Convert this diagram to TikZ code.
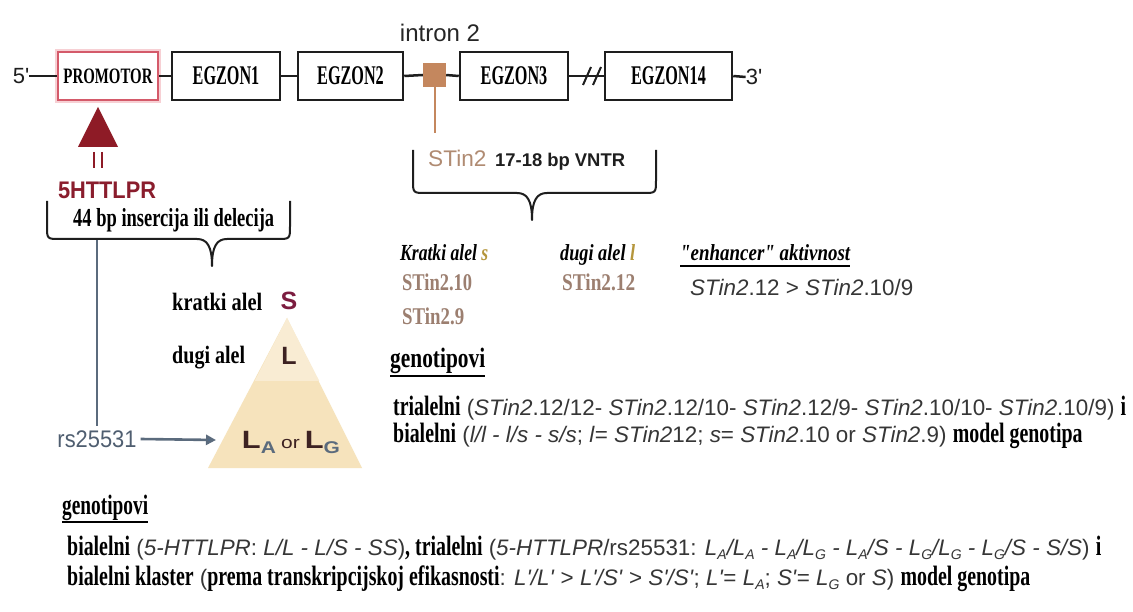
\documentclass[tikz,border=0pt]{standalone}
\usepackage{fontspec}
\setmainfont{Liberation Serif}[Ligatures=TeXOff]
\setsansfont{Liberation Sans}[Ligatures=TeXOff]
\usepackage{graphicx}
\usetikzlibrary{arrows.meta,calc}
\definecolor{linek}{HTML}{1E1E1E}
\definecolor{promred}{HTML}{D45A6A}
\definecolor{promglow}{HTML}{F7D0D4}
\definecolor{sqbrown}{HTML}{C4875E}
\definecolor{maroon1}{HTML}{8E1B26}
\definecolor{maroon2}{HTML}{8A1D2D}
\definecolor{maroonS}{HTML}{7C1D40}
\definecolor{darkL}{HTML}{3D2222}
\definecolor{slate}{HTML}{5B6B7D}
\definecolor{slatetxt}{HTML}{4F5E70}
\definecolor{arrowblue}{HTML}{4C6F96}
\definecolor{ytri}{HTML}{F6E3BC}
\definecolor{ytri2}{HTML}{F9ECD3}
\definecolor{gtxt}{HTML}{363636}
\definecolor{gold}{HTML}{B5963C}
\definecolor{stcol}{HTML}{9C7F70}
\definecolor{brownt}{HTML}{B08B72}
\newcommand\fit[2]{\resizebox{#1}{\height}{#2}}
\newcommand\fs[1]{\fontsize{#1}{#1}\selectfont}
\newcommand\sr[1]{\scalebox{0.71}[1]{\rmfamily\fs{28}\bfseries #1}}
\newcommand\sn[1]{{\sffamily\fs{22.4}\color{gtxt}#1}}
\newcommand\lsub[1]{\raisebox{-0.18em}{\fs{14}#1}}
\tikzset{
  box/.style={draw=linek, line width=2.5pt, fill=white, minimum height=48pt, inner sep=0pt},
  txt/.style={anchor=base west, inner sep=0pt},
  line/.style={font=\sffamily\fs{22.4}, anchor=base west, inner sep=0pt},
  wire/.style={draw=linek, line width=2.5pt},
  brace/.style={draw=linek, line width=2pt, line join=round},
  ul/.style={draw=black, line width=1.6pt},
  egz/.style={font=\rmfamily\bfseries\fs{27}}
}
\newcommand\eg[1]{\scalebox{0.6}[1]{#1}}
\begin{document}
\begin{tikzpicture}[x=1pt,y=-1pt]
\useasboundingbox (0,0) rectangle (1133,612);
\fill[white] (0,0) rectangle (1133,612);

% ---- gene line ----
\node[inner sep=0pt, font=\sffamily\fs{22}, text=linek] (five) at (21,76) {5'};
\node[box, draw=promred, line width=2pt, minimum width=100pt,
      preaction={draw=promglow, line width=6pt}] (prom) at (108,76)
      {\fit{89pt}{\rmfamily\bfseries\fs{22}PROMOTOR}};
\node[box, minimum width=108pt, egz] (eg1) at (226,76) {\eg{EGZON1}};
\node[box, minimum width=105pt, egz] (eg2) at (350.5,76) {\eg{EGZON2}};
\node[fill=sqbrown, minimum width=23pt, minimum height=24pt, inner sep=0pt] (sq) at (434.5,75) {};
\node[box, minimum width=108pt, egz] (eg3) at (514,76) {\eg{EGZON3}};
\node[box, minimum width=127pt, egz] (eg14) at (668.5,76) {\eg{EGZON14}};
\node[inner sep=0pt, font=\sffamily\fs{22}, text=linek] (three) at (754,77) {3'};
\node[inner sep=0pt, font=\sffamily\fs{24}, text=black!85] (intron) at (440,33) {intron 2};

\draw[wire] (five.east) -- (prom.west);
\draw[wire] (prom.east) -- (eg1.west);
\draw[wire] (eg1.east) -- (eg2.west);
\draw[wire] (eg2.east) -- (sq.west);
\draw[wire] (sq.east) -- (eg3.west);
\draw[wire] (eg3.east) -- (eg14.west);
\draw[wire] (eg14.east) -- (three.west);
\draw[wire, line width=2pt] (583,85) -- (591,67) (593,85) -- (601,67);

% ---- STin2 ----
\coordinate (stinend) at (434.5,133);
\draw[draw=sqbrown, line width=2pt] (sq.south) -- (stinend);
\node[txt, font=\sffamily\fs{22.6}, text=brownt] (stin) at (428,167) {STin2};
\node[txt, font=\sffamily\bfseries\fs{18.4}, text=linek] (vntr) at (495,167) {17-18 bp VNTR};
\draw[brace] (413,150) -- (413,180) .. controls (413,193) .. (426,193) -- (517,193)
  .. controls (527,193) and (532,200) .. (532,220)
  .. controls (532,200) and (537,193) .. (547,193) -- (643,193)
  .. controls (656,193) .. (656,180) -- (656,150);

% ---- 5HTTLPR ----
\fill[maroon1] (98,107) -- (118,147) -- (78,147) -- cycle;
\draw[maroon1, line width=2.2pt] (94,152) -- (94,168) (102,152) -- (102,168);
\node[inner sep=0pt] (h5) at (107,190) {\fit{98pt}{\sffamily\bfseries\fs{24}\color{maroon2}5HTTLPR}};
\node[txt] (ins) at (73,227) {\fit{201pt}{\rmfamily\bfseries\fs{26}44 bp insercija ili delecija}};
\draw[brace] (47,201) -- (47,226) .. controls (47,239) .. (60,239) -- (197,239)
  .. controls (207,239) and (212,246) .. (212,266)
  .. controls (212,246) and (217,239) .. (227,239) -- (277,239)
  .. controls (290,239) .. (290,226) -- (290,201);

% ---- allele pyramid ----
\fill[ytri] (287,318) -- (362,468) -- (208,468) -- cycle;
\fill[ytri2] (287,318) -- (319.3,381) -- (254.7,381) -- cycle;
\node[inner sep=0pt, font=\sffamily\bfseries\fs{25}, text=maroonS] (S) at (289,301) {S};
\node[inner sep=0pt, font=\sffamily\bfseries\fs{25}, text=darkL] (L) at (289,356) {L};
\node[txt] (kr) at (172,311) {\fit{90pt}{\rmfamily\bfseries\fs{25}kratki alel}};
\node[txt] (du) at (172,364) {\fit{73pt}{\rmfamily\bfseries\fs{25}dugi alel}};
\node[inner sep=0pt] (LALG) at (291,442) {\fit{98pt}{\sffamily\bfseries\fs{25}\color{darkL}L\raisebox{-5pt}{\fs{17}\color{slate}A}\,{\fs{17}\mdseries or}\,L\raisebox{-5pt}{\fs{17}\color{slate}G}}};

\coordinate (vtop) at (97,240);
\node[inner sep=4pt] (rs) at (97,439) {\fit{79pt}{\sffamily\fs{24}\color{slatetxt}rs25531}};
\coordinate (ae) at (216,440);
\draw[slate, line width=2.2pt] (vtop) -- (rs.north);
\draw[slate, line width=2.6pt, -{Triangle[length=10pt,width=10pt,fill=arrowblue]}] (rs.east) -- (ae);

% ---- STin2 alleles ----
\node[txt] (ks) at (400,261) {\fit{88pt}{\rmfamily\bfseries\itshape\fs{23}Kratki alel \textcolor{gold}{s}}};
\node[txt] (dl) at (560,261) {\fit{75pt}{\rmfamily\bfseries\itshape\fs{23}dugi alel \textcolor{gold}{l}}};
\node[txt] (enh) at (680,261) {\fit{170pt}{\rmfamily\bfseries\itshape\fs{23}"enhancer" aktivnost}};
\draw[ul] ($(enh.base west)+(0,5)$) -- ($(enh.base east)+(0,5)$);
\node[txt] (s10) at (402,291) {\fit{70pt}{\rmfamily\bfseries\fs{24}\color{stcol}STin2.10}};
\node[txt] (s9) at (402,325) {\fit{62pt}{\rmfamily\bfseries\fs{24}\color{stcol}STin2.9}};
\node[txt] (s12) at (562,291) {\fit{73pt}{\rmfamily\bfseries\fs{24}\color{stcol}STin2.12}};
\node[txt, font=\sffamily\fs{22.4}, text=gtxt] (enhv) at (690,296) {\textit{STin2}.12 > \textit{STin2}.10/9};

% ---- STin2 genotypes ----
\node[txt] (gen1) at (390,368) {\fit{95pt}{\rmfamily\bfseries\fs{28}genotipovi}};
\draw[ul, line width=2pt] ($(gen1.base west)+(0,8)$) -- ($(gen1.base east)+(0,8)$);
\node[line] (tri1) at (393,415) {\sr{trialelni} \sn{(\textit{STin2}.12/12- \textit{STin2}.12/10- \textit{STin2}.12/9- \textit{STin2}.10/10- \textit{STin2}.10/9)} \sr{i}};
\node[line] (bi1) at (393,442) {\sr{bialelni} \sn{(\textit{l/l - l/s - s/s}; \textit{l}= \textit{STin2}12; \textit{s}= \textit{STin2}.10 or \textit{STin2}.9)} \sr{model genotipa}};

% ---- 5-HTTLPR genotypes ----
\node[txt] (gen2) at (62,514) {\fit{86pt}{\rmfamily\bfseries\fs{28}genotipovi}};
\draw[ul, line width=2pt] ($(gen2.base west)+(0,8)$) -- ($(gen2.base east)+(0,8)$);
\node[line] (bl1) at (67,555) {\sr{bialelni} \sn{(\textit{5-HTTLPR}: \textit{L/L - L/S - SS})}\sr{, trialelni} \sn{(\textit{5-HTTLPR}/rs25531: \textit{L\lsub{A}/L\lsub{A} - L\lsub{A}/L\lsub{G} - L\lsub{A}/S - L\lsub{G}/L\lsub{G} - L\lsub{G}/S - S/S})} \sr{i}};
\node[line] (bl2) at (67,585) {\sr{bialelni klaster} \sn{(}\sr{prema transkripcijskoj efikasnosti}\sn{: \textit{L'/L'} > \textit{L'/S'} > \textit{S'/S'}; \textit{L'}= \textit{L\lsub{A}}; \textit{S'}= \textit{L\lsub{G}} or \textit{S})} \sr{model genotipa}};
\end{tikzpicture}
\end{document}
